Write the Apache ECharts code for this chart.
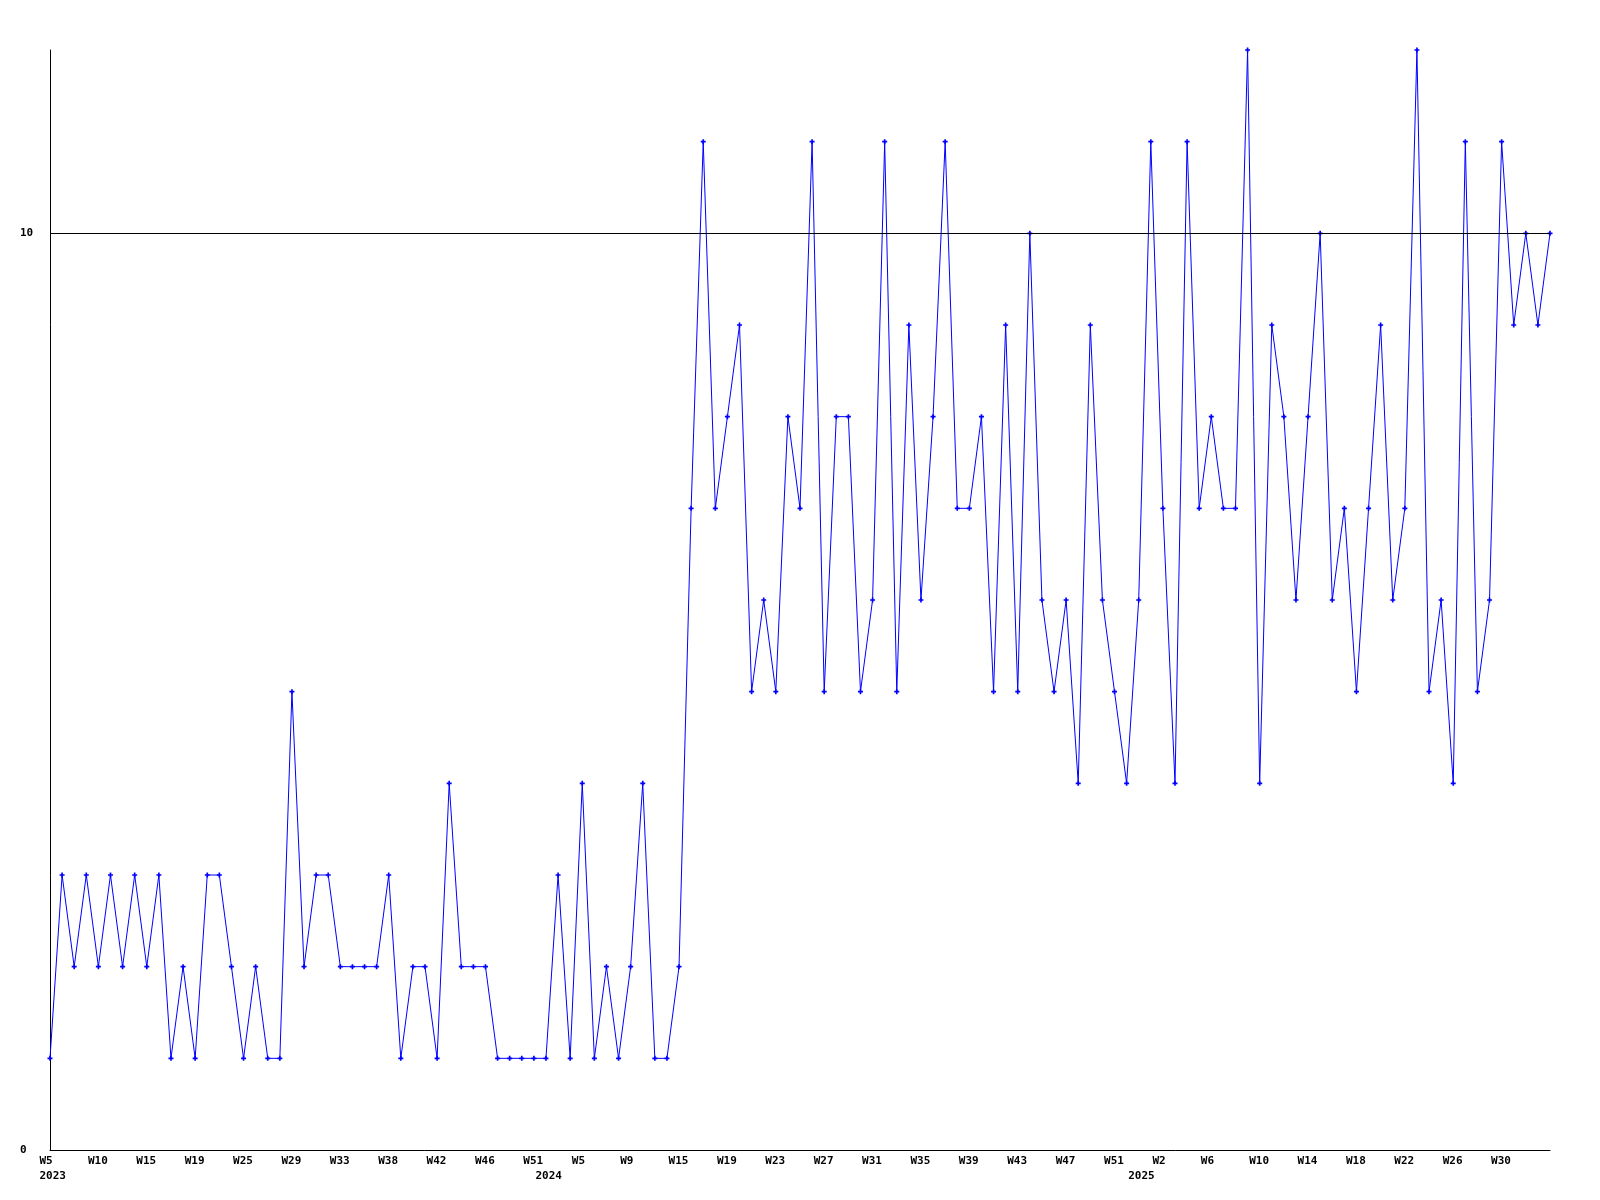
<!DOCTYPE html>
<html>
<head>
<meta charset="utf-8">
<script src="https://cdn.jsdelivr.net/npm/echarts@6/dist/echarts.min.js"></script>
<style>
html,body{margin:0;padding:0;background:#fff;}
#chart{width:1600px;height:1200px;}
</style>
</head>
<body>
<div id="chart"></div>
<script>
// values per sample (weekly samples, integer counts)
const values = [
  1,3,2,3,2,3,2,3,2,3, 1,2,1,3,3,2,1,2,1,1,
  5,2,3,3,2,2,2,2,3,1, 2,2,1,4,2,2,2,1,1,1,
  1,1,3,1,4,1,2,1,2,4, 1,1,2,7,11,7,8,9,5,6,
  5,8,7,11,5,8,8,5,6,11, 5,9,6,8,11,7,7,8,5,9,
  5,10,6,5,6,4,9,6,5,4, 6,11,7,4,11,7,8,7,7,12,
  4,9,8,6,8,10,6,7,5,7, 9,6,7,12,5,6,4,11,5,6,
  11,9,10,9,10
];
// week tick labels, one every 4 samples
const weekTicks = ['W5','W10','W15','W19','W25','W29','W33','W38','W42','W46','W51',
  'W5','W9','W15','W19','W23','W27','W31','W35','W39','W43','W47','W51',
  'W2','W6','W10','W14','W18','W22','W26','W30'];
const weekTickStep = 4;
// year labels and the sample index where each year starts
const yearTickIndex = [0, 41, 90];
const yearTicks = ['2023', '2024', '2025'];
// y axis labelled values
const yTicks = [0, 10];
const refLine = 10;

const samples = values.map((v, i) => 'S' + i);

const FONT = 'DejaVu Sans Mono';
const richLbl = {a: {width: 21, align: 'left', fontFamily: FONT, fontWeight: 'bold', fontSize: 11, color: '#000'}};

const chart = echarts.init(document.getElementById('chart'), null, {renderer: 'canvas'});
chart.setOption({
  animation: false,
  backgroundColor: '#fff',
  grid: {left: 50, right: 50, top: 50, bottom: 50, containLabel: false},
  xAxis: [{
    type: 'category', data: samples, boundaryGap: false,
    axisLine: {show: true, lineStyle: {color: '#000', width: 1}},
    axisTick: {show: false}, splitLine: {show: false},
    axisLabel: {
      interval: 0, margin: 6, align: 'center', rich: richLbl,
      formatter: (v, i) => (i % weekTickStep === 0 && weekTicks[i / weekTickStep]) ? '{a|' + weekTicks[i / weekTickStep] + '}' : ''
    }
  }, {
    type: 'category', data: samples, boundaryGap: false, position: 'bottom', offset: 15,
    axisLine: {show: false}, axisTick: {show: false}, splitLine: {show: false},
    axisLabel: {
      interval: 0, margin: 6, align: 'center', rich: richLbl,
      formatter: (v, i) => { const k = yearTickIndex.indexOf(i); return k >= 0 ? '{a|' + yearTicks[k] + '}' : ''; }
    }
  }],
  yAxis: {
    type: 'value', min: 0, max: 12,
    axisLine: {show: true, lineStyle: {color: '#000', width: 1}},
    axisTick: {show: false}, splitLine: {show: false},
    axisLabel: {
      margin: 30, align: 'left', fontFamily: FONT, fontWeight: 'bold', fontSize: 11, color: '#000',
      formatter: v => yTicks.indexOf(v) >= 0 ? String(v) : ''
    }
  },
  series: [{
    type: 'line', data: values, xAxisIndex: 0,
    lineStyle: {color: '#0000ff', width: 1},
    itemStyle: {color: '#0000ff'},
    symbol: 'path://M1,0H2V1H3V2H2V3H1V2H0V1H1Z', symbolSize: 5, showSymbol: true,
    clip: false,
    markLine: {
      silent: true, symbol: ['none', 'none'], label: {show: false},
      lineStyle: {color: '#000', width: 1, type: 'solid'},
      data: [{yAxis: refLine}]
    }
  }]
});
</script>
</body>
</html>
